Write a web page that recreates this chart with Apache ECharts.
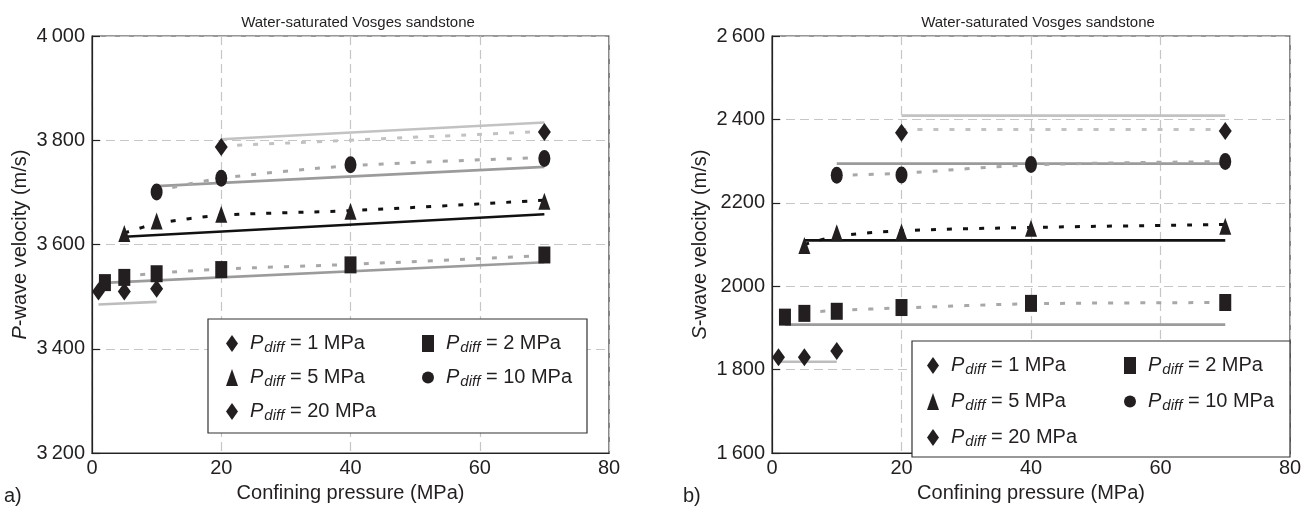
<!DOCTYPE html>
<html><head><meta charset="utf-8">
<script src="https://cdn.jsdelivr.net/npm/echarts@6/dist/echarts.min.js"></script>
<style>html,body{margin:0;padding:0;background:#fff}#c{width:1316px;height:508px}</style>
</head><body><div id="c"></div>
<script>
// ---------- data ----------
const xTicks = [0, 20, 40, 60, 80];
const pTickValues = [3200, 3400, 3600, 3800, 4000];
const pTickLabels = ['3\u2009200', '3\u2009400', '3\u2009600', '3\u2009800', '4\u2009000'];
const sTickValues = [1600, 1800, 2000, 2200, 2400, 2600];
const sTickLabels = ['1\u2009600', '1\u2009800', '2000', '2200', '2\u2009400', '2\u2009600'];

const seriesNames = ['P1', 'P2', 'P5', 'P10', 'P20'];
const pdiffValues = ['1', '2', '5', '10', '20'];

// a) P-wave: measured [confining pressure, velocity]
const pMeas_P1  = [[1, 3510], [5, 3510], [10, 3515]];
const pMeas_P2  = [[2, 3527], [5, 3537], [10, 3544], [20, 3552], [40, 3561], [70, 3580]];
const pMeas_P5  = [[5, 3621], [10, 3645], [20, 3658], [40, 3664], [70, 3683]];
const pMeas_P10 = [[10, 3701], [20, 3727], [40, 3753], [70, 3765]];
const pMeas_P20 = [[20, 3787], [70, 3816]];
// a) model (solid)
const pModel_P1  = [[1, 3485], [10, 3490]];
const pModel_P2  = [[1, 3526], [70, 3566]];
const pModel_P5  = [[5, 3615], [70, 3658]];
const pModel_P10 = [[10, 3712], [70, 3749]];
const pModel_P20 = [[20, 3802], [70, 3834]];
// a) fit (dotted)
const pFit_P2  = [[5, 3539], [10, 3545], [20, 3553], [40, 3562], [70, 3579]];
const pFit_P5  = [[5, 3622], [10, 3640], [20, 3656], [40, 3665], [70, 3685]];
const pFit_P10 = [[10, 3703], [20, 3727], [40, 3751], [70, 3767]];
const pFit_P20 = [[20, 3789], [70, 3817]];

// b) S-wave: measured
const sMeas_P1  = [[1, 1830], [5, 1830], [10, 1845]];
const sMeas_P2  = [[2, 1926], [5, 1935], [10, 1940], [20, 1949], [40, 1959], [70, 1961]];
const sMeas_P5  = [[5, 2098], [10, 2128], [20, 2130], [40, 2139], [70, 2144]];
const sMeas_P10 = [[10, 2266], [20, 2267], [40, 2292], [70, 2299]];
const sMeas_P20 = [[20, 2368], [70, 2372]];
// b) model (solid)
const sModel_P1  = [[1, 1819], [10, 1819]];
const sModel_P2  = [[2, 1908], [70, 1908]];
const sModel_P5  = [[5, 2110], [70, 2110]];
const sModel_P10 = [[10, 2294], [70, 2294]];
const sModel_P20 = [[20, 2409], [70, 2409]];
// b) fit (dotted)
const sFit_P2  = [[5, 1937], [10, 1942], [20, 1948], [40, 1958], [70, 1961]];
const sFit_P5  = [[5, 2100], [10, 2120], [20, 2133], [40, 2141], [70, 2148]];
const sFit_P10 = [[10, 2266], [20, 2271], [40, 2291], [70, 2299]];
const sFit_P20 = [[20, 2376], [70, 2376]];

// ---------- styling ----------
const FONT = '"Liberation Sans", Arial, Helvetica, sans-serif';
const INK = '#231f20';
const symbols = { P1: 'diamond', P2: 'rect', P5: 'triangle', P10: 'circle', P20: 'diamond' };
const modelColor = { P1: '#bdbdbd', P2: '#9b9b9b', P5: '#111111', P10: '#9b9b9b', P20: '#c2c2c2' };
const fitColor = { P2: '#a8a8a8', P5: '#111111', P10: '#a8a8a8', P20: '#c2c2c2' };

function panelSeries(idx, meas, model, fit) {
  const out = [];
  seriesNames.forEach(n => {
    if (model[n]) out.push({
      name: 'model-' + n + '-' + idx, type: 'line', xAxisIndex: idx, yAxisIndex: idx,
      data: model[n], symbol: 'none', silent: true, z: 2,
      lineStyle: { color: modelColor[n], width: 2.6, type: 'solid' }
    });
    if (fit[n]) out.push({
      name: 'fit-' + n + '-' + idx, type: 'line', xAxisIndex: idx, yAxisIndex: idx,
      data: fit[n], symbol: 'none', silent: true, smooth: 0.3, z: 3,
      lineStyle: { color: fitColor[n], width: 3, type: [5, 11] }
    });
  });
  seriesNames.forEach(n => {
    out.push({
      name: n, type: 'scatter', xAxisIndex: idx, yAxisIndex: idx, data: meas[n],
      symbol: symbols[n], symbolSize: n === 'P1' || n === 'P20' ? [13, 18] : [12, 17],
      itemStyle: { color: INK, opacity: 1 }, z: 5
    });
  });
  return out;
}

const series = [].concat(
  panelSeries(0,
    { P1: pMeas_P1, P2: pMeas_P2, P5: pMeas_P5, P10: pMeas_P10, P20: pMeas_P20 },
    { P1: pModel_P1, P2: pModel_P2, P5: pModel_P5, P10: pModel_P10, P20: pModel_P20 },
    { P2: pFit_P2, P5: pFit_P5, P10: pFit_P10, P20: pFit_P20 }),
  panelSeries(1,
    { P1: sMeas_P1, P2: sMeas_P2, P5: sMeas_P5, P10: sMeas_P10, P20: sMeas_P20 },
    { P1: sModel_P1, P2: sModel_P2, P5: sModel_P5, P10: sModel_P10, P20: sModel_P20 },
    { P2: sFit_P2, P5: sFit_P5, P10: sFit_P10, P20: sFit_P20 })
);

const gridDash = { color: '#c6c6c6', width: 1.2, type: [9, 5] };
function xAxis(idx) {
  return {
    type: 'value', gridIndex: idx, min: xTicks[0], max: xTicks[xTicks.length - 1], interval: 20,
    name: 'Confining pressure (MPa)', nameLocation: 'middle', nameGap: 27,
    nameTextStyle: { fontFamily: FONT, fontSize: 20, color: INK },
    axisLine: { lineStyle: { color: '#222', width: 1.2 } },
    axisTick: { show: false },
    axisLabel: { fontFamily: FONT, fontSize: 20, color: INK, margin: 5 },
    splitLine: { show: true, lineStyle: gridDash }
  };
}
function yAxis(idx, vals, labels, letter) {
  return {
    type: 'value', gridIndex: idx, min: vals[0], max: vals[vals.length - 1], interval: 200,
    name: '{i|' + letter + '}{t|-wave velocity (m/s)}', nameLocation: 'middle', nameGap: 62, nameRotate: 90,
    nameTextStyle: {
      fontFamily: FONT, fontSize: 20, color: INK,
      rich: {
        i: { fontFamily: FONT, fontSize: 20, fontStyle: 'italic', color: INK },
        t: { fontFamily: FONT, fontSize: 20, color: INK }
      }
    },
    axisLine: { lineStyle: { color: '#222', width: 1.2 } },
    axisTick: { show: true, inside: true, length: 8, lineStyle: { color: '#222', width: 1.2 } },
    axisLabel: {
      fontFamily: FONT, fontSize: 20, color: INK, margin: 7,
      formatter: v => { const k = vals.indexOf(v); return k >= 0 ? labels[k] : ''; }
    },
    splitLine: { show: true, lineStyle: gridDash }
  };
}

const legendRich = {
  p: { fontFamily: FONT, fontSize: 20, fontStyle: 'italic', color: INK, lineHeight: 18, padding: [0, 0, 0, 7] },
  s: { fontFamily: FONT, fontSize: 15, fontStyle: 'italic', color: INK, lineHeight: 18, padding: [8, 0, 0, 1] },
  t: { fontFamily: FONT, fontSize: 20, color: INK, lineHeight: 18 }
};
function legend(names, left, top, gap) {
  return {
    data: names, orient: 'vertical', left: left, top: top, itemGap: gap, padding: 0,
    itemWidth: 12, itemHeight: 17, symbolKeepAspect: false, selectedMode: false, z: 20,
    formatter: n => '{p|P}{s|diff}{t| = ' + pdiffValues[seriesNames.indexOf(n)] + ' MPa}',
    textStyle: { rich: legendRich }
  };
}

const option = {
  backgroundColor: '#fff',
  animation: false,
  title: [
    { text: 'Water-saturated Vosges sandstone', left: 353, top: 10, textAlign: 'center',
      textStyle: { fontFamily: FONT, fontSize: 15, fontWeight: 'normal', color: INK } },
    { text: 'Water-saturated Vosges sandstone', left: 1033, top: 10, textAlign: 'center',
      textStyle: { fontFamily: FONT, fontSize: 15, fontWeight: 'normal', color: INK } }
  ],
  grid: [
    { left: 92, top: 36, width: 517, height: 421, show: true, borderColor: '#333', borderWidth: 1.2, backgroundColor: 'transparent' },
    { left: 772, top: 36, width: 518, height: 421, show: true, borderColor: '#333', borderWidth: 1.2, backgroundColor: 'transparent' }
  ],
  xAxis: [xAxis(0), xAxis(1)],
  yAxis: [yAxis(0, pTickValues, pTickLabels, 'P'), yAxis(1, sTickValues, sTickLabels, 'S')],
  legend: [
    legend(['P1', 'P5', 'P20'], 226, 332, 11),
    legend(['P2', 'P10'], 422, 332, 11),
    legend(['P1', 'P5', 'P20'], 927, 354, 13),
    legend(['P2', 'P10'], 1124, 354, 13)
  ],
  graphic: [
    { type: 'rect', z: 15, shape: { x: 208, y: 319, width: 379, height: 114 },
      style: { fill: '#fff', stroke: '#333', lineWidth: 1.2 } },
    { type: 'rect', z: 15, shape: { x: 912, y: 341, width: 378, height: 116 },
      style: { fill: '#fff', stroke: '#333', lineWidth: 1.2 } },
    { type: 'text', z: 15, left: 4, top: 486, style: { text: 'a)', font: '20px ' + FONT, fill: INK } },
    { type: 'text', z: 15, left: 683, top: 486, style: { text: 'b)', font: '20px ' + FONT, fill: INK } }
  ],
  series: series
};
echarts.init(document.getElementById('c')).setOption(option);
</script></body></html>
